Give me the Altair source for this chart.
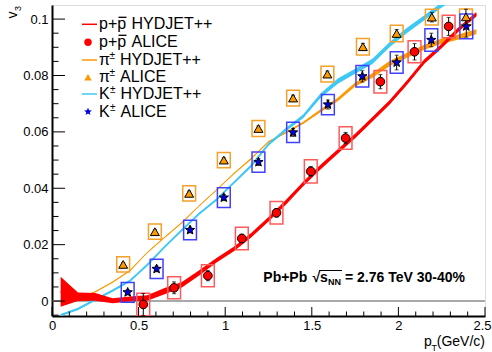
import altair as alt
import pandas as pd

FONT = "Liberation Sans"
W, H = 433, 311
LEFT, TOP = 52, 5
XDOM = [0, 2.5]
YDOM = [-0.0053, 0.105]

# ---------------- HYDJET++ bands (centre and half width) ----------------
band_pt = [0.05, 0.15, 0.25, 0.35, 0.45, 0.55, 0.65, 0.75, 0.85, 0.95, 1.05, 1.15,
           1.25, 1.35, 1.45, 1.55, 1.65, 1.75, 1.85, 1.95, 2.05, 2.15, 2.25, 2.35, 2.45]
p_hyd_c = [0.0033, 0.0015, 0.0015, 0.0001, 0.0007, 0.0011, 0.0035, 0.0058, 0.0100, 0.0145,
           0.0185, 0.0233, 0.0290, 0.0350, 0.0415, 0.0475, 0.0530, 0.0585, 0.0645, 0.0705,
           0.0775, 0.0850, 0.0905, 0.0965, 0.1017]
p_hyd_h = [0.0053, 0.0015, 0.0014, 0.0009, 0.0009, 0.0010, 0.0011, 0.0010, 0.0009, 0.0008,
           0.0008, 0.0008, 0.0008, 0.0008, 0.0008, 0.0008, 0.0008, 0.0008, 0.0008, 0.0008,
           0.0008, 0.0008, 0.0008, 0.0008, 0.0008]
pi_hyd_c = [-0.0005, 0.0008, 0.0033, 0.0067, 0.0108, 0.0172, 0.0226, 0.0278, 0.0338, 0.0394,
            0.0452, 0.0505, 0.0565, 0.0597, 0.0632, 0.0675, 0.0715, 0.0768, 0.0800, 0.0843,
            0.0872, 0.0900, 0.0922, 0.0937, 0.0955]
pi_hyd_h = [0.0002, 0.0002, 0.0002, 0.0002, 0.0002, 0.0002, 0.0002, 0.0002, 0.0002, 0.0002,
            0.0002, 0.0003, 0.0003, 0.0003, 0.0004, 0.0005, 0.0006, 0.0007, 0.0008, 0.0009,
            0.0009, 0.0009, 0.0009, 0.0009, 0.0009]
k_hyd_c = [-0.0050, -0.0028, 0.0005, 0.0037, 0.0072, 0.0128, 0.0192, 0.0252, 0.0310, 0.0360,
           0.0420, 0.0480, 0.0556, 0.0608, 0.0655, 0.0728, 0.0780, 0.0815, 0.0850, 0.0910,
           0.0960, 0.1005, 0.1050, 0.1090, 0.1130]
k_hyd_h = [0.0004, 0.0004, 0.0004, 0.0004, 0.0004, 0.0004, 0.0004, 0.0004, 0.0004, 0.0004,
           0.0004, 0.0005, 0.0005, 0.0006, 0.0007, 0.0008, 0.0009, 0.0009, 0.0009, 0.0009,
           0.0009, 0.0009, 0.0009, 0.0009, 0.0009]

# ---------------- ALICE data ----------------
p_pt = [0.527, 0.705, 0.900, 1.096, 1.296, 1.494, 1.695, 1.896, 2.093, 2.290]
p_v3 = [-0.0012, 0.0047, 0.0090, 0.0222, 0.0313, 0.0460, 0.0578, 0.0778, 0.0884, 0.0974]
p_stat = [0.0039, 0.0021, 0.0018, 0.0015, 0.0015, 0.0017, 0.0020, 0.0025, 0.0029, 0.0032]
p_sys = [0.0040, 0.0039, 0.0039, 0.0040, 0.0040, 0.0041, 0.0040, 0.0040, 0.0039, 0.0040]

pi_pt = [0.411, 0.594, 0.792, 0.992, 1.192, 1.392, 1.590, 1.795, 1.990, 2.193, 2.390]
pi_v3 = [0.0130, 0.0246, 0.0382, 0.0500, 0.0612, 0.0720, 0.0805, 0.0902, 0.0949, 0.1007, 0.1008]
pi_stat = [0.0006, 0.0007, 0.0008, 0.0008, 0.0009, 0.0010, 0.0011, 0.0012, 0.0014, 0.0017, 0.0027]
pi_sys = [0.0027, 0.0027, 0.0027, 0.0027, 0.0028, 0.0028, 0.0028, 0.0029, 0.0029, 0.0028, 0.0028]

k_pt = [0.437, 0.604, 0.797, 0.992, 1.192, 1.392, 1.593, 1.792, 1.990, 2.190, 2.392]
k_v3 = [0.0031, 0.0114, 0.0252, 0.0367, 0.0493, 0.0598, 0.0697, 0.0797, 0.0846, 0.0926, 0.0974]
k_stat = [0.0009, 0.0010, 0.0010, 0.0011, 0.0012, 0.0014, 0.0016, 0.0020, 0.0026, 0.0024, 0.0038]
k_sys = [0.0035, 0.0034, 0.0035, 0.0035, 0.0036, 0.0036, 0.0036, 0.0038, 0.0038, 0.0040, 0.0044]

# ---------------- axis ticks ----------------
x_major = [0, 0.5, 1.0, 1.5, 2.0, 2.5]
x_minor = [0.1, 0.2, 0.3, 0.4, 0.6, 0.7, 0.8, 0.9, 1.1, 1.2, 1.3, 1.4,
           1.6, 1.7, 1.8, 1.9, 2.1, 2.2, 2.3, 2.4]
y_major = [0, 0.02, 0.04, 0.06, 0.08, 0.1]
y_minor = [-0.005, 0.005, 0.01, 0.015, 0.025, 0.03, 0.035, 0.045, 0.05, 0.055,
           0.065, 0.07, 0.075, 0.085, 0.09, 0.095]

RED, ORANGE, CYAN, BLUE = "#ff0000", "#ff9900", "#3ec8f5", "#0000e6"
BOX_RED, BOX_OR, BOX_BLUE = "#ff5a5a", "#f5a02a", "#4040ff"
BOX_HW = 0.037
STAR = ("M0,-1L0.247,-0.34L0.951,-0.309L0.399,0.13L0.588,0.809L0,0.42"
        "L-0.588,0.809L-0.399,0.13L-0.951,-0.309L-0.247,-0.34Z")

xs = alt.Scale(domain=XDOM, nice=False, zero=False)
ys = alt.Scale(domain=YDOM, nice=False, zero=False)
AXX = alt.Axis(values=x_major, format="~g", title=None, ticks=False, grid=False, labelFont=FONT,
               labelFontSize=13, labelColor="black", labelPadding=3, labelFlush=False,
               labelOverlap=False, domainColor="black", domainWidth=2,
               labelAlign={"condition": {"test": "datum.value >= 2.5", "value": "right"}, "value": "center"},
               labelOffset={"condition": {"test": "datum.value >= 2.5", "value": 6}, "value": 0})
AXY = alt.Axis(values=y_major, format="~g", title=None, ticks=False, grid=False, labelFont=FONT,
               labelFontSize=13, labelColor="black", labelPadding=4, labelFlush=False,
               labelOverlap=False, domainColor="black", domainWidth=2)


def X(f):
    return alt.X(f, type="quantitative", scale=xs, axis=AXX)


def Y(f):
    return alt.Y(f, type="quantitative", scale=ys, axis=AXY)


def PX(a):
    return a - LEFT


def PY(a):
    return a - TOP


dummy = pd.DataFrame({"d": [0]})
layers = []

# zero line
zero_df = pd.DataFrame({"x": [XDOM[0]], "x2": [XDOM[1]], "y": [0.0]})
layers.append(alt.Chart(zero_df).mark_rule(color="#8c8c8c", strokeWidth=1.5).encode(
    x=X("x"), x2="x2:Q", y=Y("y")))


def band(pts, c, h, color, lw):
    df = pd.DataFrame({"pt": pts, "c": c, "h": h})
    df["lo"] = df["c"] - df["h"]
    df["hi"] = df["c"] + df["h"]
    a = alt.Chart(df).mark_area(color=color, opacity=1, clip=True).encode(x=X("pt"), y=Y("lo"), y2="hi")
    l = alt.Chart(df).mark_line(color=color, strokeWidth=lw, clip=True).encode(x=X("pt"), y=Y("c"))
    return [a, l]


layers += band(band_pt, pi_hyd_c, pi_hyd_h, ORANGE, 1.0)
layers += band(band_pt, k_hyd_c, k_hyd_h, CYAN, 1.5)
layers += band(band_pt, p_hyd_c, p_hyd_h, RED, 2.0)


def alice(pts, v, stat, sys, box_col, fill, shape, size):
    df = pd.DataFrame({"pt": pts, "v": v, "st": stat, "sy": sys})
    df["bx1"] = df["pt"] - BOX_HW
    df["bx2"] = df["pt"] + BOX_HW
    df["by1"] = df["v"] - df["sy"]
    df["by2"] = df["v"] + df["sy"]
    df["e1"] = df["v"] - df["st"]
    df["e2"] = df["v"] + df["st"]
    box = alt.Chart(df).mark_rect(fillOpacity=0, stroke=box_col, strokeWidth=1.5, clip=True).encode(
        x=X("bx1"), x2="bx2", y=Y("by1"), y2="by2")
    err = alt.Chart(df).mark_rule(color="black", strokeWidth=1, clip=True).encode(
        x=X("pt"), y=Y("e1"), y2="e2")
    cap1 = alt.Chart(df).mark_tick(orient="horizontal", color="black", size=4, thickness=1, clip=True).encode(
        x=X("pt"), y=Y("e1"))
    cap2 = alt.Chart(df).mark_tick(orient="horizontal", color="black", size=4, thickness=1, clip=True).encode(
        x=X("pt"), y=Y("e2"))
    pts_m = alt.Chart(df).mark_point(shape=shape, filled=True, fill=fill, stroke="black", strokeWidth=1,
                                     size=size, opacity=1, clip=True).encode(x=X("pt"), y=Y("v"))
    return [box, err, cap1, cap2], [pts_m]


b1, m1 = alice(pi_pt, pi_v3, pi_stat, pi_sys, BOX_OR, ORANGE, "triangle-up", 80)
b2, m2 = alice(k_pt, k_v3, k_stat, k_sys, BOX_BLUE, BLUE, STAR, 95)
b3, m3 = alice(p_pt, p_v3, p_stat, p_sys, BOX_RED, RED, "circle", 75)
layers += b1 + b2 + b3 + m1 + m2 + m3

# inner ticks (ROOT style)
layers.append(alt.Chart(pd.DataFrame({"t": x_major})).mark_rule(color="black", strokeWidth=1).encode(
    x=X("t"), y=alt.value(H), y2=alt.value(H - 9)))
layers.append(alt.Chart(pd.DataFrame({"t": x_minor})).mark_rule(color="black", strokeWidth=1).encode(
    x=X("t"), y=alt.value(H), y2=alt.value(H - 4.5)))
layers.append(alt.Chart(pd.DataFrame({"t": y_major})).mark_rule(color="black", strokeWidth=1).encode(
    y=Y("t"), x=alt.value(0), x2=alt.value(13)))
layers.append(alt.Chart(pd.DataFrame({"t": y_minor})).mark_rule(color="black", strokeWidth=1).encode(
    y=Y("t"), x=alt.value(0), x2=alt.value(6.5)))


def txt(s, ax, ay, size=16, weight="normal", align="left", baseline="middle", angle=0):
    return alt.Chart(dummy).mark_text(text=s, align=align, baseline=baseline, font=FONT, fontSize=size,
                                      fontWeight=weight, angle=angle, color="black").encode(
        x=alt.value(PX(ax)), y=alt.value(PY(ay)))


def hline(ax1, ax2, ay, color, w=1.5):
    return alt.Chart(dummy).mark_rule(color=color, strokeWidth=w).encode(
        x=alt.value(PX(ax1)), x2=alt.value(PX(ax2)), y=alt.value(PY(ay)))


def sym(ax, ay, shape, color, size):
    return alt.Chart(dummy).mark_point(shape=shape, filled=True, fill=color, size=size, opacity=1,
                                       strokeWidth=0).encode(x=alt.value(PX(ax)), y=alt.value(PY(ay)))


rows = [24.3, 42.3, 60.0, 77.3, 94.0, 111.7]
layers += [
    hline(82, 97, rows[0], RED),
    sym(88, rows[1], "circle", RED, 55),
    hline(82, 97, rows[2], ORANGE),
    sym(88, rows[3], "triangle-up", ORANGE, 55),
    hline(82, 97, rows[4], CYAN),
    sym(88, rows[5], STAR, BLUE, 70),
    txt("p+p", 99, rows[0]), hline(118.5, 126.5, rows[0] - 7, "black", 1.3), txt("HYDJET++", 131.5, rows[0]),
    txt("p+p", 99, rows[1]), hline(118.5, 126.5, rows[1] - 7, "black", 1.3), txt("ALICE", 131.5, rows[1]),
    txt("\u03c0", 99, rows[2]), txt("\u00b1", 109.5, rows[2] - 4, size=10), txt("HYDJET++", 120, rows[2]),
    txt("\u03c0", 99, rows[3]), txt("\u00b1", 109.5, rows[3] - 4, size=10), txt("ALICE", 120, rows[3]),
    txt("K", 99, rows[4]), txt("\u00b1", 110, rows[4] - 4, size=10), txt("HYDJET++", 120.5, rows[4]),
    txt("K", 99, rows[5]), txt("\u00b1", 110, rows[5] - 4, size=10), txt("ALICE", 120.5, rows[5]),
]

# annotation
layers += [
    txt("Pb+Pb", 263.3, 282, size=14, weight="bold", baseline="alphabetic"),
    txt("\u221a", 312.5, 282, size=14, weight="bold", baseline="alphabetic"),
    txt("s", 320, 282, size=14, weight="bold", baseline="alphabetic"),
    txt("NN", 328, 285, size=9, weight="bold", baseline="alphabetic"),
    txt("= 2.76 TeV 30-40%", 345, 282, size=14, weight="bold", baseline="alphabetic"),
    hline(319, 342, 270.5, "black", 1),
]

# axis titles
layers += [
    txt("v", 13.3, 15, size=14, align="center", angle=270),
    txt("3", 17.5, 8.5, size=9, align="center", angle=270),
    txt("p", 424, 345.5, size=14, baseline="alphabetic"),
    txt("T", 431.5, 350.5, size=9, baseline="alphabetic"),
    txt("(GeV/c)", 485, 345.5, size=14, align="right", baseline="alphabetic"),
]

chart = alt.layer(*layers).properties(
    width=W, height=H,
    padding={"left": LEFT, "top": TOP, "right": 492 - LEFT - W, "bottom": 352 - TOP - H},
    autosize=alt.AutoSizeParams(type="none"),
).configure_view(stroke="#444444", strokeWidth=2).configure(background="white")

chart.save("out.html", embed_options={"renderer": "svg", "actions": False})
